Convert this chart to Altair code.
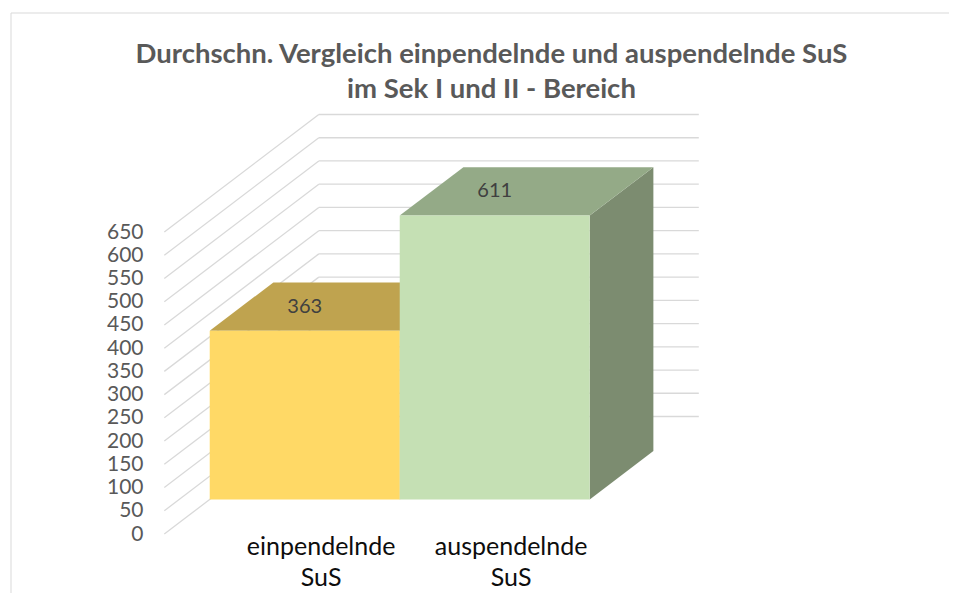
import altair as alt
import pandas as pd

# ---------------- data ----------------
categories = ["einpendelnde\nSuS", "auspendelnde\nSuS"]
values = [363, 611]
front_colors = ["#FFD966", "#C5E0B4"]
top_colors = ["#BFA34F", "#94AA87"]
side_colors = ["#A88F42", "#7C8C70"]
y_ticks = list(range(0, 651, 50))
title_lines = ["Durchschn. Vergleich einpendelnde und auspendelnde SuS",
               "im Sek I und II - Bereich"]

# ---------------- 3D oblique projection settings ----------------
W, H = 941, 585           # plot area (whole svg)
PX_CAT = 190.0            # px per category
K = 302 / 650             # px per value unit
X0, Y0 = 156.3, 526       # svg position of (category 0, value 0) at front plane
DX = 154.5 / PX_CAT       # full depth shift in category units
DY = 117.5 / K            # full depth shift in value units
Z0, Z1 = 0.294, 0.706     # bar front / back depth
LABEL_Z = 0.4
LABEL_V = -2.7

xs = alt.Scale(domain=[-X0 / PX_CAT, (W - X0) / PX_CAT], nice=False, zero=False)
ys = alt.Scale(domain=[(Y0 - H) / K, Y0 / K], nice=False, zero=False)

yaxis = alt.Axis(values=y_ticks, orient="left", offset=-135, domain=False,
                 ticks=False, tickSize=0, labelPadding=0, grid=False,
                 labelFont="Lato", labelFontSize=21, labelColor="#595959",
                 labelOverlap=False, title=None)

def X(f):
    return alt.X(f, type="quantitative", scale=xs, axis=None)

def Y(f):
    return alt.Y(f, type="quantitative", scale=ys, axis=yaxis)

n = len(categories)

# gridlines: side wall diagonals + back wall horizontals
side_grid = pd.DataFrame({
    "x": [0.0] * len(y_ticks), "x2": [DX] * len(y_ticks),
    "y": [float(v) for v in y_ticks], "y2": [v + DY for v in y_ticks]})
back_grid = pd.DataFrame({
    "x": [DX] * len(y_ticks), "x2": [n + DX] * len(y_ticks),
    "y": [v + DY for v in y_ticks], "y2": [v + DY for v in y_ticks]})

grid_side = alt.Chart(side_grid).mark_rule(color="#D9D9D9", strokeWidth=1.3).encode(
    x=X("x"), x2="x2", y=Y("y"), y2="y2")
grid_back = alt.Chart(back_grid).mark_rule(color="#D9D9D9", strokeWidth=1.3).encode(
    x=X("x"), x2="x2", y=Y("y"), y2="y2")

# bar faces
front_rows, top_rows, side_rows = [], [], []
for i, v in enumerate(values):
    front_rows.append({"bar": i, "x": i + Z0 * DX, "x2": i + 1 + Z0 * DX,
                       "y": Z0 * DY, "y2": v + Z0 * DY, "color": front_colors[i]})
    for z in (Z0, Z1):
        top_rows.append({"bar": i, "y": v + z * DY, "x": i + z * DX,
                         "x2": i + 1 + z * DX, "color": top_colors[i]})
        side_rows.append({"bar": i, "x": i + 1 + z * DX, "y": z * DY,
                          "y2": v + z * DY, "color": side_colors[i]})

sides = alt.Chart(pd.DataFrame(side_rows)).mark_area(orient="vertical").encode(
    x=X("x"), y=Y("y"), y2="y2",
    color=alt.Color("color:N", scale=None), detail="bar:N")
tops = alt.Chart(pd.DataFrame(top_rows)).mark_area(orient="horizontal").encode(
    y=Y("y"), x=X("x"), x2="x2",
    color=alt.Color("color:N", scale=None), detail="bar:N")
fronts = alt.Chart(pd.DataFrame(front_rows)).mark_rect().encode(
    x=X("x"), x2="x2", y=Y("y"), y2="y2",
    color=alt.Color("color:N", scale=None))

# value labels on top faces
val_df = pd.DataFrame({"x": [i + 0.5 + Z0 * DX for i in range(n)],
                       "y": [v + 0.5 * DY for v in values],
                       "t": [str(v) for v in values]})
val_text = alt.Chart(val_df).mark_text(font="Lato", fontSize=20, color="#404040",
                                       baseline="middle", align="center").encode(
    x=X("x"), y=Y("y"), text="t:N")

# category labels
cat_df = pd.DataFrame({"x": [i + 0.5 + LABEL_Z * DX for i in range(n)],
                       "y": [LABEL_V] * n, "t": categories})
cat_text = alt.Chart(cat_df).mark_text(font="Lato", fontSize=25, color="#0D0D0D",
                                       baseline="top", align="center",
                                       lineBreak="\n", lineHeight=31.0).encode(
    x=X("x"), y=Y("y"), text="t:N")

# chart area border (top and left edges)
one = pd.DataFrame({"a": [0]})
border_top = alt.Chart(one).mark_rule(color="#D9D9D9", strokeWidth=1).encode(
    x=alt.value(3), x2=alt.value(W), y=alt.value(5))
border_left = alt.Chart(one).mark_rule(color="#D9D9D9", strokeWidth=1).encode(
    x=alt.value(3), y=alt.value(5), y2=alt.value(H))

chart = alt.layer(
    grid_side, grid_back, sides, tops, fronts, val_text, cat_text,
    border_top, border_left
).properties(
    width=W, height=H, padding=0,
    autosize=alt.AutoSizeParams(type="none"),
    title=alt.TitleParams(text=title_lines, font="Lato", fontSize=27.5,
                          fontWeight="bold", color="#595959", anchor="middle",
                          frame="group", baseline="top", offset=-96, dx=13,
                          lineHeight=35.7),
).configure_view(stroke=None)

chart.save("out.html", embed_options={"renderer": "svg", "actions": False})
